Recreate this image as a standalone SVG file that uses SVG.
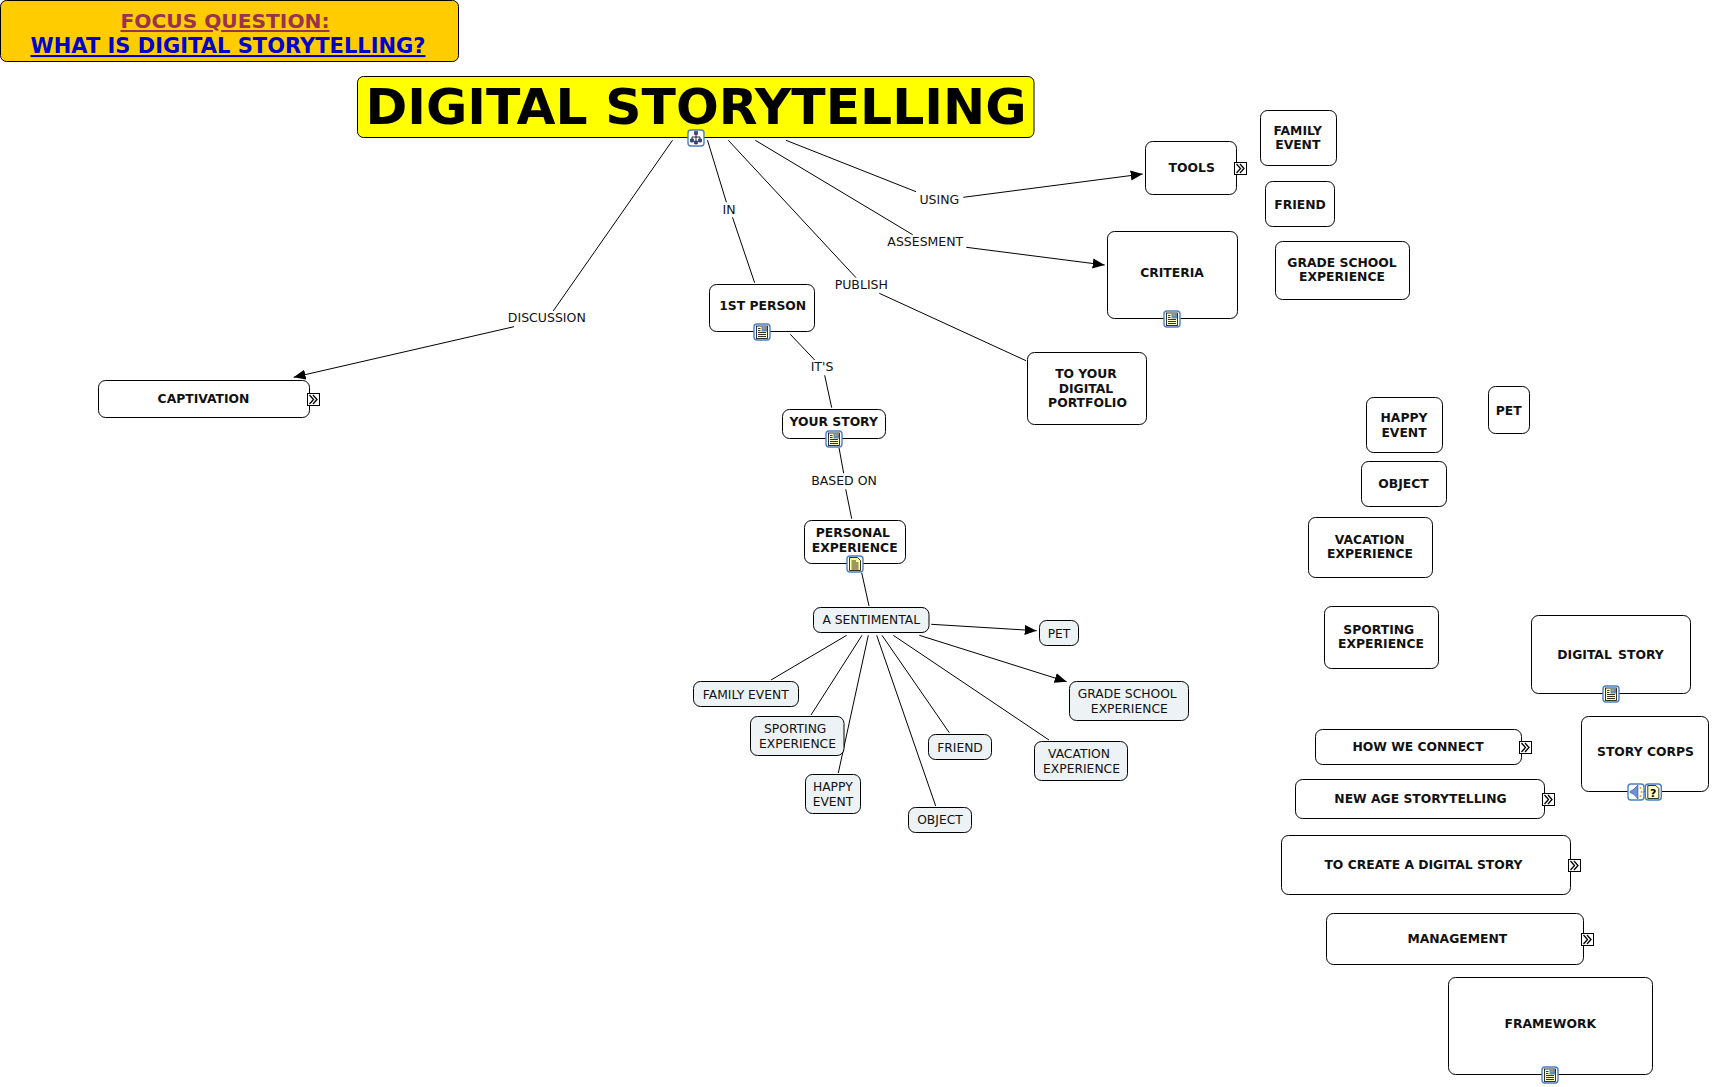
<svg xmlns="http://www.w3.org/2000/svg" xmlns:xlink="http://www.w3.org/1999/xlink" width="1712" height="1087" viewBox="0 0 1712 1087">
<style>
text{font-family:"DejaVu Sans",Verdana,sans-serif;text-anchor:middle;fill:#111}
.b{font-weight:bold;font-size:12.35px}
.s{font-size:12.3px}
.l{font-size:12.5px}
.n{fill:#fff;stroke:#000;stroke-width:1}
.m{fill:#edf3f5;stroke:#000;stroke-width:1}
.c line{stroke:#000;stroke-width:1;fill:none}
.a{marker-end:url(#arrow)}
.t{font-weight:bold;font-size:50.4px;fill:#000}
.f{font-weight:bold;font-size:20.200px;text-decoration:underline}
</style>
<defs>
<marker id="arrow" markerUnits="userSpaceOnUse" markerWidth="12" markerHeight="12" refX="12" refY="6" orient="auto"><path d="M0 1 L12 6 L0 11 Z" fill="#000"/></marker>
<g id="frame"><rect x="-8" y="-8" width="16" height="16" rx="3" fill="#fff" stroke="#4a7fc8" stroke-width="1.4"/></g>
<g id="i-img"><use href="#frame"/><rect x="-5.5" y="-6" width="11" height="12.5" fill="#ffffc8" stroke="#000" stroke-width=".8"/><rect x="-.5" y="-5.5" width="5.5" height="5" fill="#5f8fb8"/><rect x="1" y="-5" width="2" height="2" fill="#d98a5a"/><path d="M-4 -3.5H-1.5M-4 -1.5H-1.5M-4 .5H4M-4 2.5H4M-4 4.5H4" stroke="#000" stroke-width=".8"/></g>
<g id="i-doc"><use href="#frame"/><path d="M-5.5 -6.5H2.5L5.5 -3.5V6.5H-5.5Z" fill="#ffffa0" stroke="#000" stroke-width=".8"/><path d="M-3.5 -3H1M-3.5 -1H3.5M-3.5 1H3.5M-3.5 3H3.5M-3.5 5H3.5" stroke="#000" stroke-width=".8"/></g>
<g id="i-map"><use href="#frame"/><path d="M-1.500 -6.500H1.500V-3.500H-1.500ZM-5.500 1H-2.500V4H-5.500ZM2.500 1H5.500V4H2.500ZM-1.500 3H1.500V6H-1.500Z" fill="#334a9a" stroke="#223" stroke-width=".6"/><path d="M0 -3.500V3M-4 1V-1H4V1" stroke="#223" stroke-width="1" fill="none"/></g>
<g id="i-snd"><use href="#frame"/><path d="M-6 -.5L-2 -3L2 -7V7L-2 2.500L-6 .5Z" fill="#6f8fd8" stroke="#33569f" stroke-width=".6"/><path d="M4.500 -5V-3M5.500 -1V1M4.500 3V5" stroke="#d8b030" stroke-width="1.6"/></g>
<g id="i-help"><use href="#frame"/><path d="M-5.500 -6.500H2.500L5.500 -3.500V6.500H-5.500Z" fill="#ffffc8" stroke="#000" stroke-width=".8"/><text y="4.500" style="font-size:11px;font-weight:bold;fill:#000">?</text></g>
<g id="i-go"><rect x=".5" y=".5" width="12" height="12" fill="#fff" stroke="#000"/><path d="M2.500 2L6.500 6.500L2.500 11M6 2L10 6.500L6 11" fill="none" stroke="#000" stroke-width="1.3"/></g>
</defs>

<g id="connectors" class="c">
<line x1="672.5" y1="140.3" x2="553.2" y2="311"/>
<line class="a" x1="514" y1="326.7" x2="293.6" y2="377.3"/>
<line x1="707.5" y1="140.3" x2="726.4" y2="202.3"/>
<line x1="732.5" y1="217.3" x2="754.6" y2="282.7"/>
<line x1="728.3" y1="140.3" x2="856" y2="277.7"/>
<line x1="879.3" y1="293.3" x2="1026" y2="360.7"/>
<line x1="755.3" y1="140.3" x2="912.7" y2="234.7"/>
<line class="a" x1="966.3" y1="247.3" x2="1104.7" y2="265"/>
<line x1="786" y1="140.3" x2="916" y2="191.7"/>
<line class="a" x1="963.3" y1="197.3" x2="1142.7" y2="174"/>
<line x1="790.3" y1="334.3" x2="814.7" y2="360"/>
<line x1="824.7" y1="375.3" x2="831.7" y2="407.7"/>
<line x1="839" y1="447.7" x2="843.7" y2="473.3"/>
<line x1="845.7" y1="489.3" x2="851.7" y2="518.7"/>
<line x1="861.7" y1="572.7" x2="869" y2="606"/>
<line x1="846.7" y1="635.3" x2="771" y2="680"/>
<line x1="862" y1="635.3" x2="811" y2="715"/>
<line x1="868.3" y1="635.3" x2="838.3" y2="773"/>
<line x1="876.7" y1="635.3" x2="935.7" y2="806"/>
<line x1="882" y1="635.3" x2="949.3" y2="732.7"/>
<line x1="893.3" y1="635.3" x2="1049" y2="740"/>
<line class="a" x1="931.3" y1="624.3" x2="1036.7" y2="630.7"/>
<line class="a" x1="919.3" y1="635.3" x2="1066.7" y2="681.7"/>
<text class="l" x="546.8" y="322">DISCUSSION</text>
<text class="l" x="729" y="213.7">IN</text>
<text class="l" x="861.3" y="289">PUBLISH</text>
<text class="l" x="925.3" y="246.3">ASSESMENT</text>
<text class="l" x="939.3" y="204.3">USING</text>
<text class="l" x="822" y="371">IT'S</text>
<text class="l" x="844" y="485">BASED ON</text>
</g>

<g id="focus"><rect x=".5" y=".5" width="458" height="61" rx="6" fill="#ffcc00" stroke="#000"/><text class="f" x="225" y="28" style="fill:#993350">FOCUS QUESTION:</text><text class="f" x="228" y="53" style="fill:#0000cc;font-size:21px">WHAT IS DIGITAL STORYTELLING?</text></g>
<g id="title"><rect x="357.5" y="76.5" width="676.500" height="61" rx="6" fill="#ffff00" stroke="#000"/><text class="t" x="696" y="123.500">DIGITAL STORYTELLING</text><use href="#i-map" x="696" y="138"/></g>
<g id="captivation"><rect class="n" x="98.500" y="380.500" width="211" height="37" rx="7"/><text class="b" x="203.500" y="403">CAPTIVATION</text><use href="#i-go" x="307" y="393"/></g>
<g id="first-person"><rect class="n" x="709.500" y="284.500" width="105" height="47" rx="7"/><text class="b" x="762.700" y="310">1ST PERSON</text><use href="#i-img" x="762" y="332"/></g>
<g id="your-story"><rect class="n" x="782.500" y="409.500" width="103" height="29" rx="7"/><text class="b" x="833.700" y="426">YOUR STORY</text><use href="#i-img" x="834" y="439"/></g>
<g id="personal"><rect class="n" x="804.500" y="520.500" width="101" height="43" rx="7"/><text class="b" x="852.800" y="537">PERSONAL</text><text class="b" x="854.700" y="551.700">EXPERIENCE</text><use href="#i-doc" x="855" y="564"/></g>
<g id="tools"><rect class="n" x="1145.500" y="141.500" width="91" height="53" rx="7"/><text class="b" x="1191.700" y="172">TOOLS</text><use href="#i-go" x="1234" y="162"/></g>
<g id="criteria"><rect class="n" x="1107.500" y="231.500" width="130" height="87" rx="7"/><text class="b" x="1172" y="277">CRITERIA</text><use href="#i-img" x="1172" y="319"/></g>
<g id="portfolio"><rect class="n" x="1027.500" y="352.500" width="119" height="72" rx="7"/><text class="b" x="1086" y="378.300">TO YOUR</text><text class="b" x="1086" y="392.700">DIGITAL</text><text class="b" x="1087.500" y="407">PORTFOLIO</text></g>
<g id="r-family"><rect class="n" x="1260.500" y="110.500" width="76" height="55" rx="7"/><text class="b" x="1297.700" y="135">FAMILY</text><text class="b" x="1297.800" y="149.300">EVENT</text></g>
<g id="r-friend"><rect class="n" x="1265.500" y="181.500" width="69" height="45" rx="7"/><text class="b" x="1300" y="209">FRIEND</text></g>
<g id="r-grade"><rect class="n" x="1275.500" y="241.500" width="134" height="58" rx="7"/><text class="b" x="1342" y="267">GRADE SCHOOL</text><text class="b" x="1342" y="281.300">EXPERIENCE</text></g>
<g id="r-happy"><rect class="n" x="1366.500" y="397.500" width="76" height="55" rx="7"/><text class="b" x="1404" y="422">HAPPY</text><text class="b" x="1404" y="436.700">EVENT</text></g>
<g id="r-pet"><rect class="n" x="1488.500" y="386.500" width="41" height="47" rx="7"/><text class="b" x="1508.700" y="415">PET</text></g>
<g id="r-object"><rect class="n" x="1361.500" y="461.500" width="85" height="45" rx="7"/><text class="b" x="1403.500" y="488">OBJECT</text></g>
<g id="r-vacation"><rect class="n" x="1308.500" y="517.500" width="124" height="60" rx="7"/><text class="b" x="1369.700" y="544.300">VACATION</text><text class="b" x="1370" y="558.300">EXPERIENCE</text></g>
<g id="r-sporting"><rect class="n" x="1324.500" y="606.500" width="114" height="62" rx="7"/><text class="b" x="1378.800" y="634">SPORTING</text><text class="b" x="1381" y="648.300">EXPERIENCE</text></g>
<g id="digital-story"><rect class="n" x="1531.500" y="615.500" width="159" height="78" rx="7"/><text class="b" x="1610.500" y="659" style="word-spacing:2px">DIGITAL STORY</text><use href="#i-img" x="1611" y="694"/></g>
<g id="story-corps"><rect class="n" x="1581.500" y="716.500" width="127" height="75" rx="7"/><text class="b" x="1645.500" y="756">STORY CORPS</text><use href="#i-snd" x="1636" y="792"/><use href="#i-help" x="1653.300" y="792"/></g>
<g id="how"><rect class="n" x="1315.500" y="729.500" width="206" height="35" rx="7"/><text class="b" x="1418" y="751">HOW WE CONNECT</text><use href="#i-go" x="1519" y="741"/></g>
<g id="new-age"><rect class="n" x="1295.500" y="779.500" width="249" height="39" rx="7"/><text class="b" x="1420.500" y="803">NEW AGE STORYTELLING</text><use href="#i-go" x="1542" y="793"/></g>
<g id="create"><rect class="n" x="1281.500" y="835.500" width="289" height="59" rx="7"/><text class="b" x="1423.500" y="869">TO CREATE A DIGITAL STORY</text><use href="#i-go" x="1568" y="859"/></g>
<g id="management"><rect class="n" x="1326.500" y="913.500" width="257" height="51" rx="7"/><text class="b" x="1457.300" y="943">MANAGEMENT</text><use href="#i-go" x="1581" y="933"/></g>
<g id="framework"><rect class="n" x="1448.500" y="977.500" width="204" height="97" rx="7"/><text class="b" x="1550.300" y="1028">FRAMEWORK</text><use href="#i-img" x="1550" y="1075"/></g>
<g id="sentimental"><rect class="m" x="813.500" y="607.500" width="115.500" height="25" rx="7"/><text class="s" x="871.300" y="624">A SENTIMENTAL</text></g>
<g id="pet"><rect class="m" x="1039.500" y="620.500" width="39" height="25" rx="7"/><text class="s" x="1059" y="638">PET</text></g>
<g id="grade"><rect class="m" x="1069.500" y="681.500" width="119" height="39" rx="7"/><text class="s" x="1127.200" y="698">GRADE SCHOOL</text><text class="s" x="1129.300" y="712.700">EXPERIENCE</text></g>
<g id="family"><rect class="m" x="693.500" y="681.500" width="105" height="25" rx="7"/><text class="s" x="745.800" y="698.700">FAMILY EVENT</text></g>
<g id="sporting"><rect class="m" x="750.500" y="716.500" width="93.500" height="39" rx="7"/><text class="s" x="795.200" y="733.300">SPORTING</text><text class="s" x="797.500" y="747.700">EXPERIENCE</text></g>
<g id="friend"><rect class="m" x="928.500" y="734.500" width="63" height="25" rx="7"/><text class="s" x="960" y="752">FRIEND</text></g>
<g id="vacation"><rect class="m" x="1034.500" y="741.500" width="93" height="39" rx="7"/><text class="s" x="1079" y="758.300">VACATION</text><text class="s" x="1081.500" y="772.700">EXPERIENCE</text></g>
<g id="happy"><rect class="m" x="805.500" y="774.500" width="55" height="39" rx="7"/><text class="s" x="832.800" y="791">HAPPY</text><text class="s" x="833" y="805.700">EVENT</text></g>
<g id="object"><rect class="m" x="908.500" y="807.500" width="63" height="25" rx="7"/><text class="s" x="940" y="824">OBJECT</text></g>
</svg>
